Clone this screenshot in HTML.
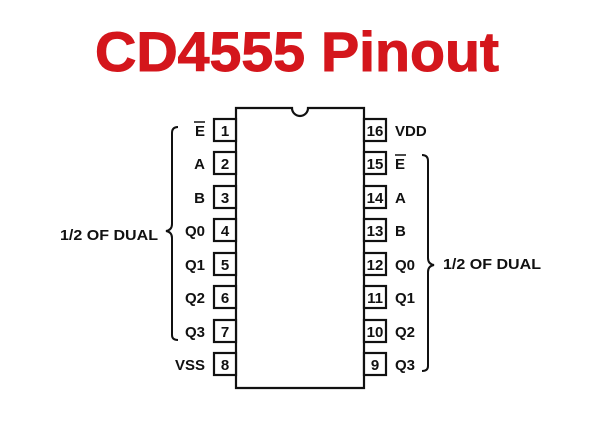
<!DOCTYPE html>
<html><head><style>
body{margin:0;background:#fff;width:602px;height:436px;overflow:hidden}
svg text{font-family:"Liberation Sans",Arial,sans-serif;font-weight:bold}
</style></head><body>
<svg width="602" height="436" viewBox="0 0 602 436">
<text x="297" y="71" text-anchor="middle" font-size="56" fill="#d4161c" stroke="#d4161c" stroke-width="1" textLength="404" lengthAdjust="spacingAndGlyphs">CD4555 Pinout</text>
<g stroke="#111" stroke-width="2.2" fill="#fff">
<path d="M236,108 H292 A8,8 0 0 0 308,108 H364 V388 H236 Z"/>
<rect x="214" y="119" width="22" height="22"/><rect x="214" y="152" width="22" height="22"/>
<rect x="214" y="186" width="22" height="22"/><rect x="214" y="219" width="22" height="22"/>
<rect x="214" y="253" width="22" height="22"/><rect x="214" y="286" width="22" height="22"/>
<rect x="214" y="320" width="22" height="22"/><rect x="214" y="353" width="22" height="22"/>
<rect x="364" y="119" width="22" height="22"/><rect x="364" y="152" width="22" height="22"/>
<rect x="364" y="186" width="22" height="22"/><rect x="364" y="219" width="22" height="22"/>
<rect x="364" y="253" width="22" height="22"/><rect x="364" y="286" width="22" height="22"/>
<rect x="364" y="320" width="22" height="22"/><rect x="364" y="353" width="22" height="22"/>
</g>
<g fill="none" stroke="#111" stroke-width="2">
<path d="M178,127 Q172,127 172,133 V224 Q172,230 166,231 Q172,232 172,238 V335 Q172,340 178,340"/>
<path d="M422,155 Q428,155 428,161 V258 Q428,264 434,265 Q428,266 428,272 V366 Q428,371 422,371"/>
</g>
<g font-size="15" fill="#111" text-anchor="middle">
<text x="225" y="136">1</text><text x="225" y="169">2</text><text x="225" y="203">3</text><text x="225" y="236">4</text>
<text x="225" y="270">5</text><text x="225" y="303">6</text><text x="225" y="337">7</text><text x="225" y="370">8</text>
<text x="375" y="136">16</text><text x="375" y="169">15</text><text x="375" y="203">14</text><text x="375" y="236">13</text>
<text x="375" y="270">12</text><text x="375" y="303">11</text><text x="375" y="337">10</text><text x="375" y="370">9</text>
</g>
<g font-size="15" fill="#111" text-anchor="end">
<text x="205" y="136">E</text><text x="205" y="169">A</text><text x="205" y="203">B</text><text x="205" y="236">Q0</text>
<text x="205" y="270">Q1</text><text x="205" y="303">Q2</text><text x="205" y="337">Q3</text><text x="205" y="370">VSS</text>
</g>
<g font-size="15" fill="#111">
<text x="395" y="136">VDD</text><text x="395" y="169">E</text><text x="395" y="203">A</text><text x="395" y="236">B</text>
<text x="395" y="270">Q0</text><text x="395" y="303">Q1</text><text x="395" y="337">Q2</text><text x="395" y="370">Q3</text>
</g>
<g stroke="#111" stroke-width="1.5"><line x1="194" y1="122" x2="205" y2="122"/><line x1="395" y1="155" x2="406" y2="155"/></g>
<text x="60" y="240" font-size="15" fill="#111" textLength="98" lengthAdjust="spacingAndGlyphs">1/2 OF DUAL</text>
<text x="443" y="269" font-size="15" fill="#111" textLength="98" lengthAdjust="spacingAndGlyphs">1/2 OF DUAL</text>
</svg>
</body></html>
